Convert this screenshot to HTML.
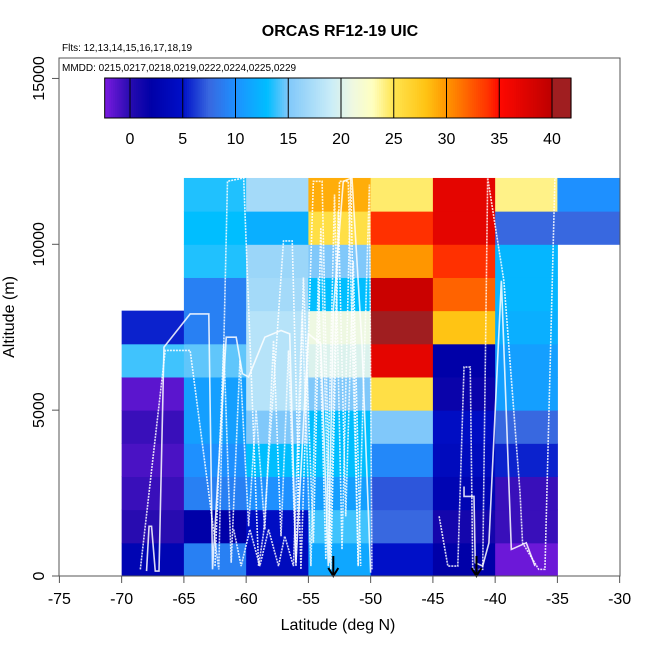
<!DOCTYPE html>
<html><head><meta charset="utf-8"><style>
html,body{margin:0;padding:0;background:#fff}
svg{display:block;font-family:"Liberation Sans",Arial,sans-serif}
</style></head><body>
<svg id="chart" width="650" height="650" viewBox="0 0 650 650">
<g id="cells"></g>
<g id="tracks"></g>
<g id="axes"></g>
<g id="cbar"></g>
<text x="340" y="36" text-anchor="middle" font-size="16" font-weight="bold">ORCAS RF12-19 UIC</text>
<text x="62" y="51" font-size="10">Flts: 12,13,14,15,16,17,18,19</text>
<text x="62" y="71" font-size="10">MMDD: 0215,0217,0218,0219,0222,0224,0225,0229</text>
<text x="338" y="630" text-anchor="middle" font-size="16">Latitude (deg N)</text>
<text x="14" y="317" text-anchor="middle" font-size="16" transform="rotate(-90 14 317)">Altitude (m)</text>
</svg>
<script>
// Latitude bins (left edges) and altitude bins (bottom edges, m)
const latBins = [-70,-65,-60,-55,-50,-45,-40,-35];
const altBins = [0,1000,2000,3000,4000,5000,6000,7000,8000,9000,10000,11000];
// values per altitude row (row 0 = 0-1000 m), per latitude column; null = no data
const row0  = [3, 9, 4, 11.5, 5, 2, -2, null];
const row1  = [0, 2, 4.5, 14, 7.5, 1, -0.5, null];
const row2  = [-0.5, 9, 10, 11, 7, 3, -0.5, null];
const row3  = [-1, 10, 13, 13, 9.5, 4, 5.5, null];
const row4  = [-0.5, 11, 15, 13, 15, 4.5, 7.5, null];
const row5  = [-1.5, 11, 18, 15, 25.5, 1.5, 11, null];
const row6  = [14, 14.5, 18, 20, 37, 2, 11, null];
const row7  = [5.5, 9, 18, 21, 41, 28, 12, null];
const row8  = [null, 9, 17, 13, 39, 32, 12.5, null];
const row9  = [null, 13.5, 16.5, 15, 30, 34, 12.5, null];
const row10 = [null, 13, 12, 25.5, 34, 37, 7.5, 7.5];
const row11 = [null, 13.5, 17, 29, 24.5, 37, 24, 10];
const rows = [row0,row1,row2,row3,row4,row5,row6,row7,row8,row9,row10,row11];
const xTicks = [-75,-70,-65,-60,-55,-50,-45,-40,-35,-30];
const yTicks = [0,5000,10000,15000];
const cbTicks = [0,5,10,15,20,25,30,35,40];
const arrowLats = [-53,-41.5];
// flight track samples (lat, alt)
const trackLat1 = [-68,-67.8,-67.6,-67.3,-67,-66.6,-64.5,-63,-62.7,-61.6,-60.8,-60.3,-59.8,-58.5,-57.2,-56.5,-56,-55,-54,-53.4,-53,-52.2,-51.5,-50.7,-50];
const trackAlt1 = [150,1500,1500,150,150,6900,7900,7900,200,7200,7200,6100,6000,7200,7400,7300,400,7300,7000,300,8000,11900,12000,7000,100];
const trackLat2 = [-68.5,-66.5,-64.5,-62.2,-61.5,-60.2,-59,-58.6,-57,-56.3,-55.6,-54.6,-53.9,-53.2,-52.5,-51.8,-51,-50.1,-49.9];
const trackAlt2 = [200,6800,6800,200,11900,12000,300,1300,10100,10100,200,11900,11900,200,11900,11900,300,11800,200];
const trackLat3 = [-44.5,-43.8,-43,-42.5,-42,-41.8,-41,-40.6,-39.3,-38,-37.8,-36.5,-36,-35.2,-35];
const trackAlt3 = [1800,300,300,6300,6300,200,200,12000,8900,2500,1000,200,200,12000,12000];
const trackLat4 = [-42.5,-42.5,-41.7,-41.6,-41,-40.5,-39.5,-38.7,-37.5,-36.8];
const trackAlt4 = [2700,2400,2400,400,300,1000,8900,800,1000,300];
const trackLat5 = [-62.5,-61.8,-61.2,-60.5,-59.8,-59.2,-58.5,-57.8,-57.2,-56.6,-56,-55.4,-54.6,-54,-53.3,-52.6,-52,-51.4,-50.8];
const trackAlt5 = [300,7000,400,6500,1500,5000,1400,7100,1200,6800,300,9000,1000,10500,400,11000,1800,9500,300];
const trackLat6 = [-61,-60.4,-59.7,-58.9,-58.2,-57.4,-56.9,-56.2,-55.5,-54.8,-54.2,-53.6,-52.9,-52.3,-51.6,-51];
const trackAlt6 = [1400,300,1400,300,1400,300,1200,300,8000,300,9000,500,11500,800,12000,300];

const NS='http://www.w3.org/2000/svg';
const X0=59.4, XS=12.45, Y0=576, YS=0.03317;
function xs(lat){return X0+(lat+75)*XS;}
function ys(alt){return Y0-alt*YS;}
function mk(tag,attrs,parent){const e=document.createElementNS(NS,tag);for(const k in attrs)e.setAttribute(k,attrs[k]);parent.appendChild(e);return e;}
const stops=[[-2.4,[122,26,224]],[0,[40,12,176]],[2,[0,0,168]],[5,[0,16,200]],[7.5,[56,104,224]],[10,[30,144,255]],[13,[0,190,255]],[15,[128,200,250]],[19,[200,236,248]],[21,[238,248,226]],[23,[255,255,192]],[25,[255,228,80]],[28,[255,196,20]],[30,[255,150,0]],[34,[255,48,0]],[35,[255,8,0]],[39.9,[190,0,0]],[40,[160,30,32]],[42,[160,30,32]]];
function col(v){
  if(v<=stops[0][0])return 'rgb('+stops[0][1]+')';
  for(let i=1;i<stops.length;i++){if(v<=stops[i][0]){const a=stops[i-1],b=stops[i];const t=(v-a[0])/(b[0]-a[0]);const c=a[1].map((q,j)=>Math.round(q+(b[1][j]-q)*t));return 'rgb('+c.join(',')+')';}}
  return 'rgb('+stops[stops.length-1][1]+')';
}
const cells=document.getElementById('cells');
rows.forEach((r,ri)=>{r.forEach((v,ci)=>{if(v===null)return;
  const x1=xs(latBins[ci]),x2=xs(latBins[ci]+5),y1=ys(altBins[ri]+1000),y2=ys(altBins[ri]);
  const e=mk('rect',{x:x1,y:y1,width:x2-x1+0.5,height:y2-y1+0.5,fill:col(v)},cells);
  
  
});});
const tracks=document.getElementById('tracks');
[[trackLat1,trackAlt1,'none'],[trackLat2,trackAlt2,'2 1'],[trackLat3,trackAlt3,'2 1'],[trackLat4,trackAlt4,'none'],[trackLat5,trackAlt5,'2 1'],[trackLat6,trackAlt6,'2 1']].forEach((t,i)=>{
  const pts=t[0].map((l,j)=>xs(l)+','+ys(t[1][j])).join(' ');
  const e=mk('polyline',{points:pts,fill:'none',stroke:'#fff','stroke-width':1.6,'stroke-opacity':0.85,'stroke-dasharray':t[2]},tracks);
  
  
});
const axes=document.getElementById('axes');
arrowLats.forEach((l,i)=>{
  const g=mk('g',{},axes);
  
  
  mk('line',{x1:xs(l),y1:556,x2:xs(l),y2:576,stroke:'#000','stroke-width':2},g);
  mk('polyline',{points:(xs(l)-5)+',568 '+xs(l)+',576 '+(xs(l)+5)+',568',fill:'none',stroke:'#000','stroke-width':2},g);
});
const box=mk('rect',{x:59,y:58,width:561,height:518,fill:'none',stroke:'#555','stroke-width':1},axes);


xTicks.forEach(t=>{
  mk('line',{x1:xs(t),y1:576,x2:xs(t),y2:583,stroke:'#555'},axes);
  const e=mk('text',{x:xs(t),y:604,'text-anchor':'middle','font-size':16},axes);
  e.textContent=t;
  
  
});
yTicks.forEach(t=>{
  mk('line',{x1:52,y1:ys(t),x2:59,y2:ys(t),stroke:'#555'},axes);
  const e=mk('text',{x:44,y:ys(t),'text-anchor':'middle','font-size':16,transform:'rotate(-90 44 '+ys(t)+')'},axes);
  e.textContent=t;
  
  
});
const cb=document.getElementById('cbar');
const C0=130, CS=10.55;
function cx(v){return C0+v*CS;}
for(let v=-2.4;v<41.8;v+=0.2){mk('rect',{x:cx(v),y:78,width:CS*0.2+0.6,height:40,fill:col(v+0.1)},cb);}
mk('rect',{x:cx(-2.4),y:78,width:cx(41.8)-cx(-2.4),height:40,fill:'none',stroke:'#000'},cb);
cbTicks.forEach(t=>{
  mk('line',{x1:cx(t),y1:78,x2:cx(t),y2:118,stroke:'#000','stroke-width':1},cb);
  const e=mk('text',{x:cx(t),y:144,'text-anchor':'middle','font-size':16},cb);
  e.textContent=t;
  
  
});
</script>
</body></html>
